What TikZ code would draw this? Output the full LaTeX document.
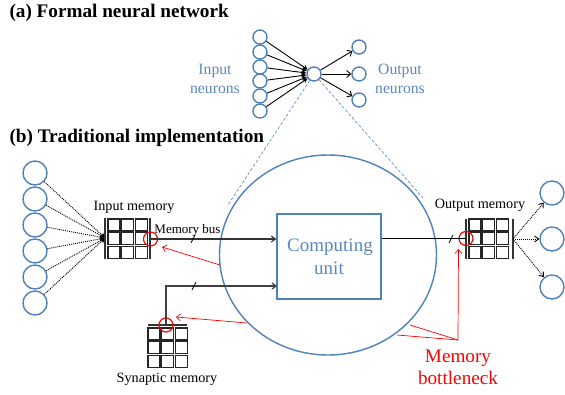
\documentclass[tikz,border=0pt]{standalone}
\usepackage{fontspec}
\setmainfont{Liberation Serif}
\usetikzlibrary{arrows.meta,shapes.geometric}
\definecolor{neuronblue}{HTML}{4F81BD}
\definecolor{labelblue}{HTML}{5B87BE}
\begin{document}
\begin{tikzpicture}[x=1pt,y=-1pt]
  \tikzset{
    neuron/.style={circle, draw=neuronblue, line width=1.4pt, inner sep=0pt, minimum size=14pt},
    big neuron/.style={neuron, minimum size=24pt},
    link/.style={line width=0.9pt},
    fan/.style={link, line width=0.9pt, dash pattern=on 1pt off 1pt},
    bus/.style={line width=1.1pt, black!80},
    choke/.style={circle, draw=red, line width=1.2pt, inner sep=0pt, minimum size=14pt},
    blame/.style={red, line width=0.7pt},
    blue label/.style={text=labelblue, font=\fontsize{15.7}{19}\selectfont, align=center},
    small label/.style={font=\fontsize{14.2}{16}\selectfont},
    title/.style={anchor=west, font=\fontsize{19.2}{22}\selectfont\bfseries},
    memory grid/.pic={
      \foreach \col in {0,1,2} {
        \foreach \row in {0,1,2} {
          \draw [line width=1.2pt, black!85] (13.7*\col,13.7*\row) rectangle ++(12,12);
        }
      }
    },
    bus slash/.pic={
      \draw [line width=0.8pt] (-2,4) -- (2,-4);
    }
  }
  \useasboundingbox (0,0) rectangle (565,394);

  \node [title] (titlea) at (6,13) {(a) Formal neural network};
  \node [title] (titleb) at (6,138) {(b) Traditional implementation};

  % formal network
  \foreach \i/\y in {1/37,2/52,3/67,4/81,5/96,6/111} {
    \node [neuron] (in\i) at (260,\y) {};
  }
  \node [neuron] (c) at (314,74) {};
  \foreach \i/\y in {1/47,2/74,3/100} {
    \node [neuron] (out\i) at (359,\y) {};
  }
  \foreach \i in {1,...,6} {
    \draw [link,-{Stealth[length=5pt,width=5pt]}] (in\i) -- (c);
  }
  \foreach \i in {1,2,3} {
    \draw [link,-{Straight Barb[length=4pt,width=7pt]}] (c) -- (out\i);
  }
  \node [blue label] (inlabel) at (215,79) {Input\\neurons};
  \node [blue label] (outlabel) at (400,79) {Output\\neurons};

  % computing part
  \node [ellipse, draw=neuronblue, line width=1.4pt, inner sep=0pt, minimum width=217pt, minimum height=200pt] (cpu) at (328,255) {};
  \node [rectangle, draw=neuronblue, line width=1.4pt, inner sep=0pt, minimum width=104pt, minimum height=85pt, text=labelblue, align=center, font=\fontsize{19}{23}\selectfont] (unit) at (329,256.5) {\hspace*{2pt}Computing\\unit};
  \coordinate (zoomleft) at (228,205);
  \coordinate (zoomright) at (423,198);
  \draw [neuronblue, densely dashed, line width=0.6pt] (c) -- (zoomleft);
  \draw [neuronblue, densely dashed, line width=0.6pt] (c) -- (zoomright);

  % input memory
  \foreach \i/\y in {1/173,2/199,3/225,4/251,5/277,6/303} {
    \node [big neuron] (left\i) at (35,\y) {};
  }
  \coordinate (fanin) at (105,238);
  \foreach \i in {1,...,6} {
    \draw [fan,-{Stealth[length=5pt,width=5pt]}] (left\i) -- (fanin);
  }
  \pic at (108,219) {memory grid};
  \coordinate (inbarl1) at (105,218);
  \coordinate (inbarl2) at (105,259);
  \coordinate (inbarr1) at (150,218);
  \coordinate (inbarr2) at (150,259);
  \draw [bus] (inbarl1) -- (inbarl2);
  \draw [bus] (inbarr1) -- (inbarr2);
  \node [small label] (inmem) at (134,207) {Input memory};
  \node [small label, font=\fontsize{13}{15}\selectfont] (buslabel) at (187.5,230) {Memory bus};
  \node [choke] (inchoke) at (150.5,239) {};
  \draw [bus,-{Straight Barb[length=4pt,width=6pt]}] (inchoke.center) -- (inchoke.center -| unit.west);
  \pic at (193,239) {bus slash};

  % synaptic memory
  \pic at (148,328) {memory grid};
  \coordinate (synbar1) at (148,325);
  \coordinate (synbar2) at (187,325);
  \draw [bus] (synbar1) -- (synbar2);
  \node [choke] (synchoke) at (166,325) {};
  \coordinate (synin) at (277,286);
  \draw [bus,-{Straight Barb[length=4pt,width=6pt]},line width=1.2pt,black!75] (synchoke.center) |- (synin);
  \pic at (194,286) {bus slash};
  \node [small label] (synmem) at (167,379) {Synaptic memory};

  % output memory
  \pic at (469,219) {memory grid};
  \coordinate (outbarl1) at (466,219);
  \coordinate (outbarl2) at (466,259);
  \coordinate (outbarr1) at (513,219);
  \coordinate (outbarr2) at (513,259);
  \draw [bus] (outbarl1) -- (outbarl2);
  \draw [bus] (outbarr1) -- (outbarr2);
  \node [small label] (outmem) at (480,205) {Output memory};
  \node [choke] (outchoke) at (466,238.5) {};
  \draw [bus,black] (outchoke.center -| unit.east) -- (outchoke.center);
  \pic at (451,239) {bus slash};
  \coordinate (fanout) at (513,239);
  \foreach \i/\y in {1/193,2/239,3/287} {
    \node [big neuron] (right\i) at (552,\y) {};
    \draw [fan,-{Straight Barb[length=4pt,width=6pt]}] (fanout) -- (right\i);
  }

  % bottleneck
  \node [text=red, align=center, font=\fontsize{19.2}{21.5}\selectfont] (neck) at (458,367.5) {Memory\\bottleneck};
  \coordinate (neckjoin) at (458,340);
  \coordinate (neckup) at (458.5,249);
  \coordinate (neckcpu1) at (397,335);
  \coordinate (neckcpu2) at (410,325);
  \coordinate (blameinfrom) at (220,265);
  \coordinate (blameinto) at (162,247);
  \coordinate (blamesynfrom) at (247,323);
  \coordinate (blamesynto) at (176,317);
  \draw [blame] (neckcpu1) -- (neckjoin);
  \draw [blame] (neckcpu2) -- (neckjoin);
  \draw [blame,-{Straight Barb[length=4pt,width=7pt]}] (neckjoin) -- (neckup);
  \draw [blame,-{Straight Barb[length=4pt,width=7pt]}] (blameinfrom) -- (blameinto);
  \draw [blame,-{Straight Barb[length=4pt,width=7pt]}] (blamesynfrom) -- (blamesynto);
\end{tikzpicture}
\end{document}
